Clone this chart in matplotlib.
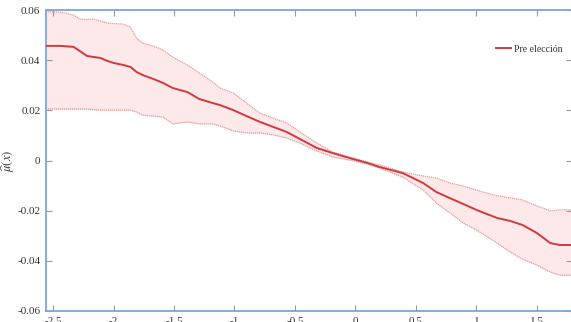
import matplotlib
matplotlib.use("Agg")
import matplotlib.pyplot as plt

plt.rcParams['font.family'] = ['Liberation Serif', 'DejaVu Serif']
plt.rcParams['mathtext.fontset'] = 'stix'

x = [-2.56, -2.44, -2.33, -2.28, -2.22, -2.17, -2.11, -2.05, -2.0, -1.92, -1.86,
     -1.81, -1.76, -1.67, -1.59, -1.51, -1.39, -1.29, -1.18, -1.12, -1.01, -0.9,
     -0.79, -0.68, -0.57, -0.46, -0.32, -0.19, -0.05, 0.1, 0.2, 0.39, 0.56, 0.67,
     0.78, 0.89, 1.0, 1.17, 1.28, 1.38, 1.5, 1.61, 1.69, 1.78]

mu = [0.0457, 0.0457, 0.0453, 0.0437, 0.0417, 0.0413, 0.0409, 0.0397, 0.0389,
      0.0381, 0.0373, 0.0353, 0.0341, 0.0325, 0.0309, 0.0289, 0.0273, 0.0245,
      0.0229, 0.0221, 0.0201, 0.0177, 0.0154, 0.0134, 0.0114, 0.0086, 0.0050,
      0.0030, 0.0010, -0.0010, -0.0026, -0.0050, -0.0090, -0.0126, -0.0150,
      -0.0173, -0.0197, -0.0229, -0.0241, -0.0257, -0.0289, -0.0329, -0.0337,
      -0.0337]

upper = [0.0593, 0.0592, 0.0580, 0.0564, 0.0562, 0.0564, 0.0556, 0.0548, 0.0546,
         0.0544, 0.0532, 0.0488, 0.0468, 0.0456, 0.0440, 0.0412, 0.0381, 0.0349,
         0.0313, 0.0289, 0.0269, 0.0229, 0.0189, 0.0169, 0.0150, 0.0114, 0.0070,
         0.0034, 0.0014, -0.0006, -0.0018, -0.0046, -0.0062, -0.0070, -0.0090,
         -0.0102, -0.0118, -0.0141, -0.0149, -0.0157, -0.0181, -0.0201, -0.0197,
         -0.0197]

lower = [0.0205, 0.0205, 0.0205, 0.0205, 0.0205, 0.0203, 0.0201, 0.0201, 0.0201,
         0.0201, 0.0201, 0.0193, 0.0181, 0.0177, 0.0173, 0.0146, 0.0154, 0.0146,
         0.0146, 0.0138, 0.0118, 0.0110, 0.0110, 0.0102, 0.0090, 0.0070, 0.0038,
         0.0014, 0.0002, -0.0014, -0.0030, -0.0066, -0.0118, -0.0170, -0.0209,
         -0.0249, -0.0277, -0.0329, -0.0365, -0.0393, -0.0417, -0.0445, -0.0457,
         -0.0457]

xticks = [-2.5, -2, -1.5, -1, -0.5, 0, 0.5, 1, 1.5]
yticks = [-0.06, -0.04, -0.02, 0, 0.02, 0.04, 0.06]
ytick_labels = ['-0.06', '-0.04', '-0.02', '0', '0.02', '0.04', '0.06']
series_label = 'Pre elección'

fig = plt.figure(figsize=(5.71, 3.22), dpi=100)
ax = fig.add_axes([46/571, 1 - 311/322, (572 - 46)/571, 301/322])

ax.fill_between(x, lower, upper, color='#fde9e9', linewidth=0, zorder=1)
ax.plot(x, upper, color='#e79a9a', linewidth=0.9, linestyle=(0, (1, 0.6)), zorder=2)
ax.plot(x, lower, color='#e79a9a', linewidth=0.9, linestyle=(0, (1, 0.6)), zorder=2)
ax.plot(x, mu, color='#d2393d', linewidth=1.4, label=series_label, zorder=3)

ax.set_xlim(-2.558, 1.79)
ax.set_ylim(-0.06, 0.06)
ax.set_xticks(xticks)
ax.set_xticklabels([str(t) for t in xticks])
ax.set_yticks(yticks)
ax.set_yticklabels(ytick_labels)

ax.tick_params(direction='in', length=4, width=0.8, color='#999999',
               labelsize=8, labelcolor='#333333', top=True, right=True, pad=4)
for s in ax.spines.values():
    s.set_color('#7ea6d8')
    s.set_linewidth(1.3)

ax.set_ylabel(r'$\widehat{\mu}(x)$', fontsize=9, color='#333333')
ax.yaxis.set_label_coords(-0.056, 0.5)

leg = ax.legend(loc='center left', bbox_to_anchor=(0.855, 0.870), frameon=False,
                fontsize=7, handlelength=1.6, handletextpad=0.25,
                borderpad=0, borderaxespad=0)
for t in leg.get_texts():
    t.set_color('#333333')

fig.savefig('out.png', dpi=100)
